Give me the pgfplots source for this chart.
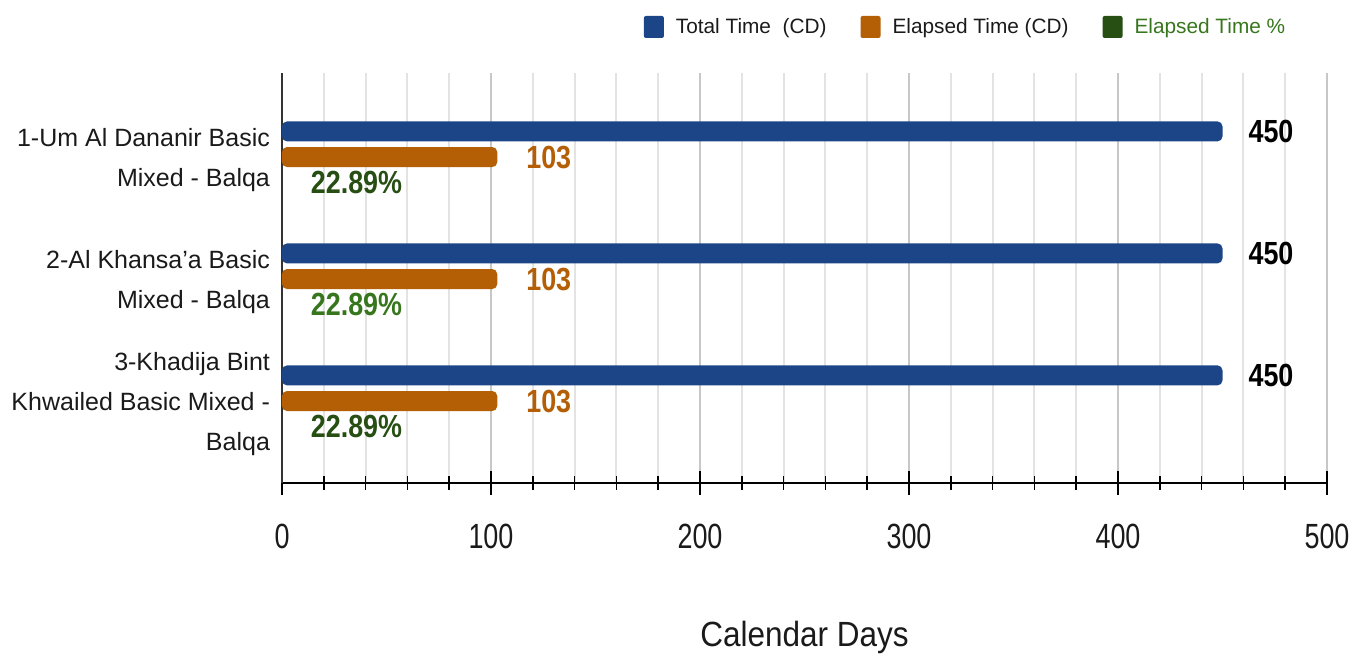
\documentclass[border=0pt]{standalone}
\usepackage{fontspec}
\setmainfont{Liberation Sans}
\newfontfamily\tickfont[FakeStretch=0.77]{Liberation Sans}
\newfontfamily\valfont[FakeStretch=0.84]{Liberation Sans}
\newfontfamily\labfont[FakeStretch=0.9]{Liberation Sans}
\usepackage{pgfplots}
\usepackage{pgfplotstable}
\pgfplotsset{compat=1.18}

\definecolor{cblue}{HTML}{1C4587}
\definecolor{corange}{HTML}{B45F06}
\definecolor{cgreen}{HTML}{274E13}
\definecolor{lgreen}{HTML}{38761D}
\definecolor{txt}{HTML}{1A1A1A}

\tikzset{vals/.style={font=\valfont\bfseries\fontsize{16}{18}\selectfont}}

% idx 2 = first school (top)
\pgfplotstableread{
idx total elapsed
2 450 103
1 450 103
0 450 103
}\data
% elapsed %, split by label colour
\pgfplotstableread{
idx pct
2 22.89
0 22.89
}\pctdark
\pgfplotstableread{
idx pct
1 22.89
}\pctlight

\begin{document}
\begin{tikzpicture}
\useasboundingbox (-141pt,-87pt) rectangle (541.5pt,241.5pt);
\begin{axis}[
    at={(0,0)}, anchor=south west,
    scale only axis,
    width=522.5pt, height=205pt,
    xmin=0, xmax=500,
    ymin=-0.672, ymax=2.689,
    clip=false,
    axis x line*=bottom,
    axis y line*=left,
    x axis line style={black, line width=1pt},
    y axis line style={black!80, line width=1pt},
    xtick={0,100,...,500},
    minor x tick num=4,
    tick align=center,
    major tick length=12pt,
    minor tick length=7pt,
    xtick style={black, line width=0.8pt},
    ytick={0,1,2},
    yticklabels={{3-Khadija Bint\\Khwailed Basic Mixed -\\Balqa},
                 {2-Al Khansa'a Basic\\Mixed - Balqa},
                 {1-Um Al Dananir Basic\\Mixed - Balqa}},
    ytick style={draw=none},
    yticklabel style={align=right, text=txt, xshift=3.5pt, yshift=-1.5pt,
        font=\fontsize{12.5}{20}\selectfont},
    xticklabel style={text=txt, yshift=-11pt, font=\tickfont\fontsize{17.5}{20}\selectfont},
    /pgf/number format/assume math mode=true,
    xmajorgrids, xminorgrids,
    major grid style={draw=black!22, line width=1pt},
    minor grid style={draw=black!11, line width=1pt},
    xlabel={Calendar Days},
    every axis x label/.style={at={(rel axis cs:0.5,0)}, anchor=center, yshift=-77pt,
        text=txt, font=\labfont\fontsize{17.5}{20}\selectfont},
    legend columns=3,
    legend style={at={(0.97,1)}, anchor=east, yshift=23pt, draw=none, fill=none,
        font=\fontsize{10.4}{12}\selectfont, text=txt,
        /tikz/every even column/.append style={column sep=15pt}},
    legend cell align=left,
    sq/.style={legend image code/.code={
        \fill[#1, draw=none, rounded corners=1pt] (0pt,-5.5pt) rectangle (10pt,5.5pt);
        \path[draw=none, fill=none] (0pt,0pt) -- (14pt,0pt);}},
    pct label/.style={forget plot, xbar, bar width=0.164, bar shift=-0.21,
        fill=none, draw=none, point meta=x,
        nodes near coords={\pgfmathprintnumber[fixed,precision=2,fixed zerofill]{\pgfplotspointmeta}\%},
        nodes near coords style={anchor=west, xshift=-13pt, yshift=-12.5pt, text=#1, vals}},
]
\addlegendimage{sq=cblue}
\addlegendentry{Total Time\ \ (CD)}
\addlegendimage{sq=corange}
\addlegendentry{Elapsed Time (CD)}
\addlegendimage{sq=cgreen}
\addlegendentry{\textcolor{lgreen}{Elapsed Time \%}}

\addplot[forget plot, xbar, bar width=0.164, bar shift=0.21, fill=cblue, draw=none,
    rounded corners=2.5pt, point meta=x, nodes near coords,
    nodes near coords style={anchor=west, xshift=9.5pt, yshift=13pt, text=black, vals}]
    table[x=total, y=idx] {\data};
\addplot[forget plot, xbar, bar width=0.164, bar shift=0, fill=corange, draw=none,
    rounded corners=2.5pt, point meta=x, nodes near coords,
    nodes near coords style={anchor=west, xshift=11pt, text=corange, vals}]
    table[x=elapsed, y=idx] {\data};
\addplot[pct label=cgreen] table[x=pct, y=idx] {\pctdark};
\addplot[pct label=lgreen] table[x=pct, y=idx] {\pctlight};
\end{axis}
\end{tikzpicture}
\end{document}
